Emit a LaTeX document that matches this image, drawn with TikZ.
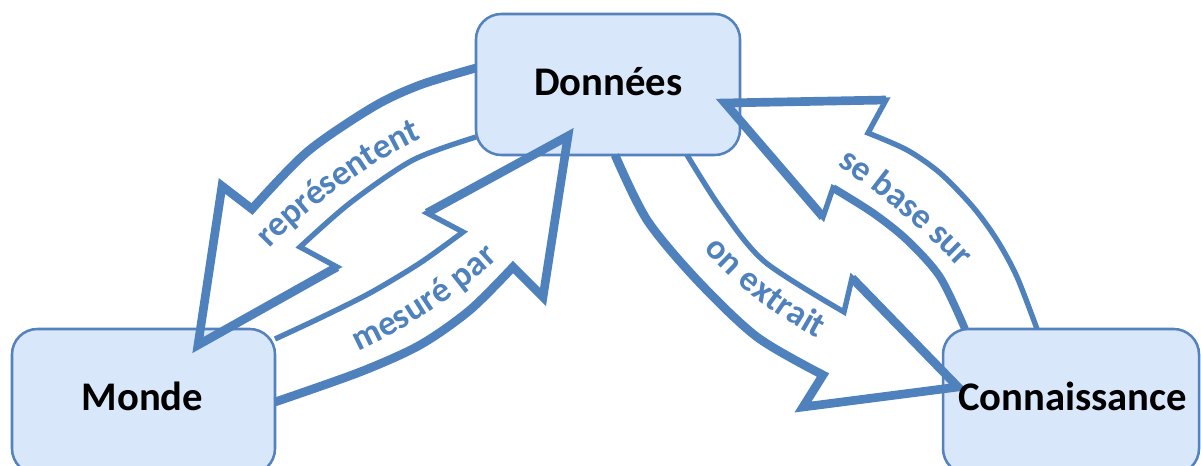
\documentclass[tikz,border=0pt]{standalone}
\usepackage{fontspec}
\setmainfont{Carlito}
\usetikzlibrary{decorations.text}

\definecolor{linkblue}{RGB}{79,129,189}
\definecolor{boxfill}{RGB}{217,231,251}
\definecolor{boxline}{RGB}{84,130,190}

\tikzset{
  box/.style={draw=boxline, fill=boxfill, line width=1.9pt, rounded corners=19pt, inner sep=0pt},
  boxtext/.style={font=\bfseries\fontsize{30.5}{36}\selectfont, anchor=base, inner sep=0pt},
  rim/.style={draw=linkblue, line width=4pt, line join=miter, miter limit=12},
  rimheavy/.style={draw=linkblue, line width=6.5pt, line join=miter, miter limit=12, line cap=butt},
  along/.style={decorate, decoration={text along path, text align=center, raise=-6.2pt,
      text={|\bfseries\fontsize{26.5}{30}\selectfont\color{linkblue}|#1}}}
}

\begin{document}
\begin{tikzpicture}[x=0.75pt, y=-0.75pt]
\useasboundingbox (0,0) rectangle (1201,466);

% boxes
\node[box, minimum width=197.25pt, minimum height=108.75pt] (monde) at (143.5,401.5) {};
\node[box, minimum width=198pt, minimum height=105.75pt] (donnees) at (608,84.5) {};
\node[box, minimum width=192pt, minimum height=108.75pt] (connaissance) at (1071,401.5) {};

% arrow "représentent": Données -> Monde
\coordinate (rJ) at (252,209); \coordinate (rBarb) at (222,186);
\coordinate (rTip) at (198,345); \coordinate (rA) at (337,267); \coordinate (rB) at (300,247);
\draw[rim] plot[smooth] coordinates {(476,68) (420,85) (373,107) (307,152) (rJ)}
  -- (rBarb) -- (rTip) -- (rA) -- (rB)
  -- plot[smooth] coordinates {(rB) (350,203) (413,160) (476,137)};
\draw[rimheavy] plot[smooth] coordinates {(476,68) (420,85) (373,107) (307,152) (rJ)}
  -- (rBarb) -- (rTip) -- (rA);

% arrow "mesuré par": Monde -> Données
\coordinate (mJ) at (513,267); \coordinate (mBarb) at (543,297);
\coordinate (mTip) at (568,136); \coordinate (mA) at (427,213); \coordinate (mB) at (463,232);
\draw[rim] plot[smooth] coordinates {(275,402) (360,372) (420,345) (470,310) (mJ)}
  -- (mBarb) -- (mTip) -- (mA) -- (mB)
  -- plot[smooth] coordinates {(mB) (420,263) (370,293) (320,318) (275,339)};
\draw[rimheavy] plot[smooth] coordinates {(275,402) (360,372) (420,345) (470,310) (mJ)}
  -- (mBarb) -- (mTip) -- (mA);

% arrow "on extrait": Données -> Connaissance
\coordinate (eJ) at (823,375); \coordinate (eBarb) at (803,407);
\coordinate (eTip) at (958,387); \coordinate (eA) at (852,278); \coordinate (eB) at (844,312);
\draw[rim] plot[smooth] coordinates {(615,155) (647,220) (697,280) (757,337) (eJ)}
  -- (eBarb) -- (eTip) -- (eA) -- (eB)
  -- plot[smooth] coordinates {(eB) (765,262) (722,210) (687,155)};
\draw[rimheavy] plot[smooth] coordinates {(615,155) (647,220) (697,280) (757,337) (eJ)}
  -- (eBarb) -- (eTip) -- (eA);

% arrow "se base sur": Connaissance -> Données
\coordinate (sJ) at (868,133); \coordinate (sBarb) at (886,100);
\coordinate (sTip) at (725,103); \coordinate (sA) at (823,217); \coordinate (sB) at (833,188);
\draw[rim] plot[smooth] coordinates {(1037,329) (1017,277) (997,240) (973,207) (940,173) (907,150) (sJ)}
  -- (sBarb) -- (sTip) -- (sA) -- (sB)
  -- plot[smooth] coordinates {(sB) (873,213) (907,240) (940,277) (965,329)};
\draw[rimheavy] (sBarb) -- (sTip) -- (sA);
\draw[rimheavy, line width=5.8pt] plot[smooth] coordinates {(sB) (873,213) (907,240) (940,277) (965,329)};

% arrow captions
\path[along=représentent] (255,252) .. controls (285,215) and (375,145) .. (430,127);
\path[along=mesuré par] (345,348) .. controls (400,325) and (460,285) .. (500,245);
\path[along=on extrait] (700,232) .. controls (735,275) and (785,315) .. (835,338);
\path[along=se base sur] (830,152) .. controls (880,180) and (930,225) .. (975,272);

% box captions
\node[boxtext] (monde-text) at (142.5,410) {Monde};
\node[boxtext] (donnees-text) at (608.5,95.5) {Données};
\node[boxtext] (connaissance-text) at (1072.5,410) {Connaissance};
\end{tikzpicture}
\end{document}
